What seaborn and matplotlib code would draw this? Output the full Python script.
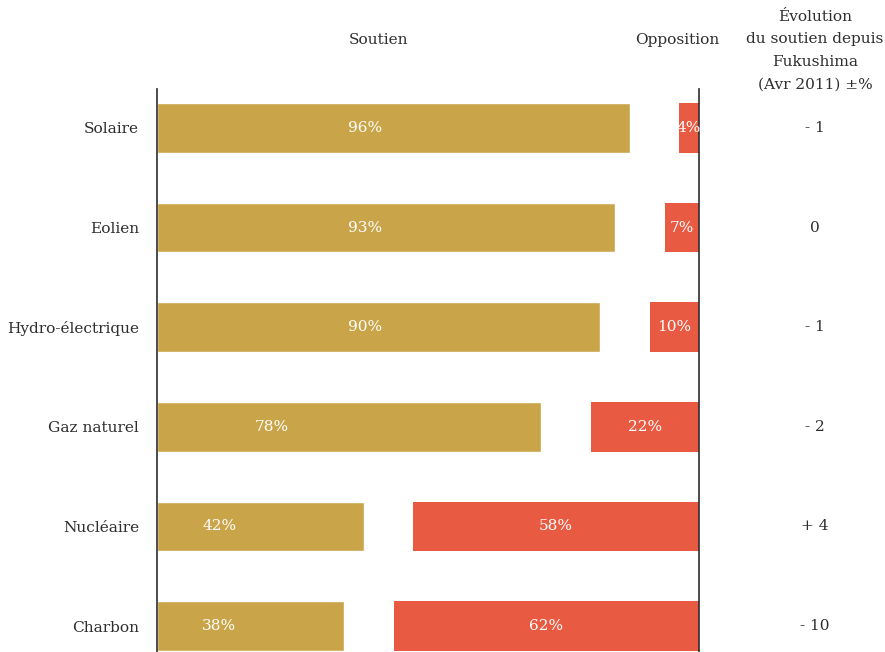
import matplotlib
matplotlib.use("Agg")
import matplotlib.pyplot as plt
import seaborn as sns
import numpy as np
import pandas as pd

# Data
sources = ["Solaire", "Eolien", "Hydro-électrique", "Gaz naturel", "Nucléaire", "Charbon"]
soutien = [96, 93, 90, 78, 42, 38]
opposition = [4, 7, 10, 22, 58, 62]
evolution = ["- 1", "0", "- 1", "- 2", "+ 4", "- 10"]
evolution_header = ["Évolution", "du soutien depuis", "Fukushima", "(Avr 2011) ±%"]

GOLD = "#C9A449"
RED = "#E85A42"
INK = "#2E2E2E"
FULL = 110  # scale end: opposition bars are anchored here
FS = 11.1

sns.set_theme(style="white")
plt.rcParams["font.family"] = ["DejaVu Serif"]

df = pd.DataFrame({"source": sources, "soutien": soutien, "opposition": opposition})

fig = plt.figure(figsize=(8.85, 6.52), dpi=100)
ax = fig.add_axes([157 / 885, 0, 542 / 885, 563 / 652])

sns.barplot(data=df, x="soutien", y="source", color=GOLD, width=0.5,
            saturation=1, orient="h", ax=ax)
ypos = np.arange(len(sources))
opp = np.array(opposition)
ax.barh(ypos, opp, left=FULL - opp, height=0.5, color=RED, linewidth=0)

ax.set_xlim(0, FULL)
ax.set_ylim(5.26, -0.39)
ax.set_xlabel("")
ax.set_ylabel("")
ax.set_xticks([])
ax.tick_params(axis="y", length=0, pad=13, labelsize=FS, labelcolor=INK)

for side in ["top", "bottom"]:
    ax.spines[side].set_visible(False)
for side in ["left", "right"]:
    ax.spines[side].set_color(INK)
    ax.spines[side].set_linewidth(1.2)

# value labels inside bars
sup_label_x = [42.3, 42.3, 42.3, 23.2, 12.6, 12.6]
for i, (s, o) in enumerate(zip(soutien, opposition)):
    ax.text(sup_label_x[i], i, f"{s}%", ha="center", va="center",
            color="white", fontsize=FS)
    ax.text(FULL - o / 2, i, f"{o}%", ha="center", va="center",
            color="white", fontsize=FS)

# change column at the right
for i, e in enumerate(evolution):
    ax.text(815, ax.transData.transform((0, i))[1], e, transform=None,
            ha="center", va="center", color=INK, fontsize=FS)

# headers
fig.text(379 / 885, 1 - 40 / 652, "Soutien", ha="center", va="center",
         color=INK, fontsize=FS)
fig.text(677 / 885, 1 - 40 / 652, "Opposition", ha="center", va="center",
         color=INK, fontsize=FS)
for k, line in enumerate(evolution_header):
    fig.text(815 / 885, 1 - (17 + 22.4 * k) / 652, line, ha="center",
             va="center", color=INK, fontsize=FS)

fig.savefig("out.png", dpi=100)
